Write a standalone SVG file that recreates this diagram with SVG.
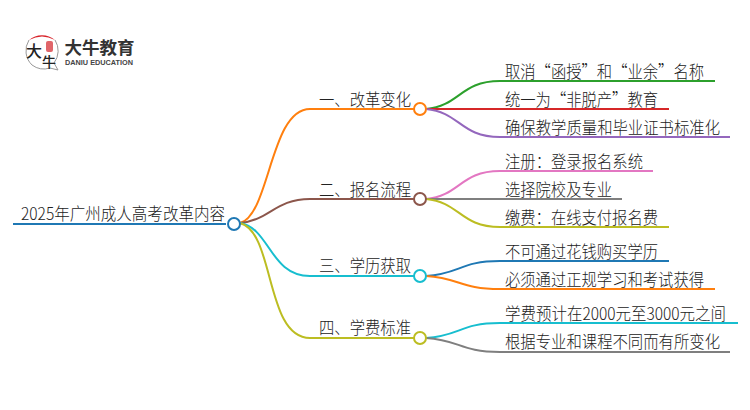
<svg xmlns="http://www.w3.org/2000/svg" width="750" height="410" viewBox="0 0 750 410">
<style>
text{font-family:"Noto Sans CJK SC","Liberation Sans",sans-serif;fill:#333}
.t{font-size:17px;font-weight:300;fill:#222}
.b{font-size:17.500px;font-weight:300;fill:#222}
.l{fill:none;stroke-width:2}
.n{fill:#fff;stroke-width:2}
</style>
<rect width="750" height="410" fill="#fff"/>
<g id="logo">
<path d="M29 40 A20 20 0 0 1 55 40 Q42 33 29 40 Z" fill="#d8232a"/>
<path d="M29 40 A20 20 0 0 0 32 65 A20 20 0 0 0 50 68 L58 70 L54 63 A20 20 0 0 0 55 40" fill="none" stroke="#999" stroke-width="1"/>
<rect x="46" y="41" width="7" height="11" rx="2" fill="#e0656a"/>
<text x="26" y="57" font-size="16" font-weight="500" style="fill:#222">大</text>
<text x="42" y="67" font-size="14" font-weight="500" style="fill:#222">牛</text>
<text x="64.500" y="54" font-size="17.500" font-weight="700" style="fill:#333">大牛教育</text>
<text x="65" y="64.500" font-size="7.500" font-weight="700" textLength="68" lengthAdjust="spacingAndGlyphs" style="font-family:'Liberation Sans',sans-serif;fill:#444">DANIU EDUCATION</text>
</g>
<g id="connectors">
<path class="l" stroke="#1f78b4" d="M13 224H226"/>
<path class="l" stroke="#ff7f0e" d="M240 223C270 215 270 109 310 109H414"/>
<path class="l" stroke="#8c564b" d="M240 223C270 220 275 199 310 199H414"/>
<path class="l" stroke="#17becf" d="M240 223C270 228 270 276 310 276H414"/>
<path class="l" stroke="#bcbd22" d="M240 223C275 232 265 338 310 338H414"/>
<path class="l" stroke="#2ca02c" d="M426 109C460 106 460 81 500 81H715"/>
<path class="l" stroke="#d62728" d="M426 109H669"/>
<path class="l" stroke="#9467bd" d="M426 109C460 112 460 137 500 137H730"/>
<path class="l" stroke="#e377c2" d="M426 199C460 196 460 171 500 171H653"/>
<path class="l" stroke="#7f7f7f" d="M426 199H622"/>
<path class="l" stroke="#bcbd22" d="M426 199C460 202 460 227 500 227H669"/>
<path class="l" stroke="#1f78b4" d="M426 276C460 274 460 261 500 261H669"/>
<path class="l" stroke="#ff7f0e" d="M426 276C460 278 460 289 500 289H715"/>
<path class="l" stroke="#17becf" d="M426 338C460 336 460 323 500 323H738"/>
<path class="l" stroke="#7f7f7f" d="M426 338C460 340 460 352 500 352H730"/>
</g>
<g id="root"><text class="t" x="21" y="220" textLength="204" lengthAdjust="spacingAndGlyphs">2025年广州成人高考改革内容</text><circle class="n" cx="234" cy="224" r="6" stroke="#1f78b4"/></g>
<g id="n1"><text class="b" x="319" y="106" textLength="92" lengthAdjust="spacingAndGlyphs">一、改革变化</text><circle class="n" cx="420" cy="109" r="6" stroke="#ff7f0e"/></g>
<g id="n2"><text class="b" x="319" y="196" textLength="92" lengthAdjust="spacingAndGlyphs">二、报名流程</text><circle class="n" cx="420" cy="199" r="6" stroke="#8c564b"/></g>
<g id="n3"><text class="b" x="319" y="272" textLength="92" lengthAdjust="spacingAndGlyphs">三、学历获取</text><circle class="n" cx="420" cy="276" r="6" stroke="#17becf"/></g>
<g id="n4"><text class="b" x="319" y="334" textLength="92" lengthAdjust="spacingAndGlyphs">四、学费标准</text><circle class="n" cx="420" cy="338" r="6" stroke="#bcbd22"/></g>
<g id="l1"><text class="t" x="505" y="78" textLength="199" lengthAdjust="spacingAndGlyphs">取消“函授”和“业余”名称</text></g>
<g id="l2"><text class="t" x="505" y="106" textLength="153" lengthAdjust="spacingAndGlyphs">统一为“非脱产”教育</text></g>
<g id="l3"><text class="t" x="505" y="134" textLength="215" lengthAdjust="spacingAndGlyphs">确保教学质量和毕业证书标准化</text></g>
<g id="l4"><text class="t" x="505" y="168" textLength="138" lengthAdjust="spacingAndGlyphs">注册：登录报名系统</text></g>
<g id="l5"><text class="t" x="505" y="196" textLength="107" lengthAdjust="spacingAndGlyphs">选择院校及专业</text></g>
<g id="l6"><text class="t" x="505" y="224" textLength="153" lengthAdjust="spacingAndGlyphs">缴费：在线支付报名费</text></g>
<g id="l7"><text class="t" x="505" y="258" textLength="153" lengthAdjust="spacingAndGlyphs">不可通过花钱购买学历</text></g>
<g id="l8"><text class="t" x="505" y="286" textLength="199" lengthAdjust="spacingAndGlyphs">必须通过正规学习和考试获得</text></g>
<g id="l9"><text class="t" x="505" y="320" textLength="221" lengthAdjust="spacingAndGlyphs">学费预计在2000元至3000元之间</text></g>
<g id="l10"><text class="t" x="505" y="348" textLength="215" lengthAdjust="spacingAndGlyphs">根据专业和课程不同而有所变化</text></g>
</svg>
